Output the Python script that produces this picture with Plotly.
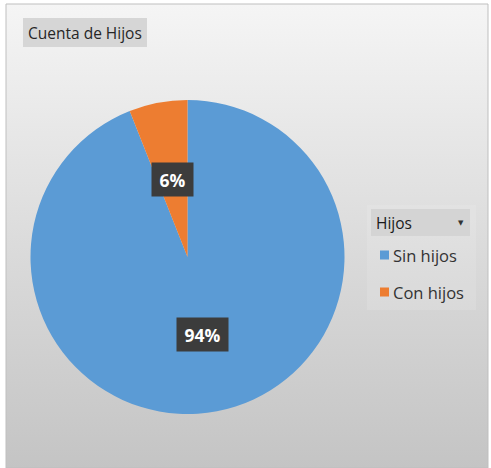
import math
import plotly.graph_objects as go

# Chart data
labels = ["Sin hijos", "Con hijos"]
values = [94, 6]
colors = ["#5b9bd5", "#ed7d31"]
title_text = "Cuenta de Hijos"
legend_title = "Hijos"

W, H = 491, 468
# pie geometry in pixels
cx, cy, r = 187.5, 257.0, 157.0

fig = go.Figure()

# gradient background of the chart frame
fx0, fx1, fy0, fy1 = 6, 488, 4, 468
fig.add_trace(go.Scatter(
    x=[fx0, fx1, fx1, fx0, fx0], y=[fy0, fy0, fy1, fy1, fy0],
    mode="lines", fill="toself", line=dict(width=1, color="#bfbfbf"),
    fillgradient=dict(type="vertical",
                      colorscale=[[0, "#c4c4c4"], [0.5, "#dcdcdc"], [1, "#f5f5f5"]]),
    hoverinfo="skip", showlegend=False,
))

fig.add_trace(go.Pie(
    labels=labels, values=values, sort=False, direction="clockwise", rotation=0,
    marker=dict(colors=colors, line=dict(width=0)),
    textinfo="none", hoverinfo="label+percent", showlegend=False,
    domain=dict(x=[(cx - r) / W, (cx + r) / W], y=[1 - (cy + r) / H, 1 - (cy - r) / H]),
))

shapes = []
annotations = []

# percentage labels placed halfway along each slice's middle angle
total = sum(values)
cum = 0.0
for lab, v in zip(labels, values):
    mid = (cum + v / 2) / total
    cum += v
    th = 2 * math.pi * mid
    px = cx + 0.5 * r * math.sin(th)
    py = cy - 0.5 * r * math.cos(th)
    txt = f"{round(100 * v / total)}%"
    annotations.append(dict(
        x=px, y=py, xref="x", yref="y", text=f"<b>{txt}</b>", showarrow=False,
        font=dict(family="Open Sans", size=17.5, color="white"),
        bgcolor="#3c3c3c", width=10 * len(txt) + 21, height=33, borderpad=0,
    ))

# title box
shapes.append(dict(type="rect", xref="x", yref="y", x0=23, x1=147, y0=18, y1=47,
                   fillcolor="#d6d6d6", line=dict(width=0), layer="above"))
annotations.append(dict(x=26, y=32.5, xref="x", yref="y", text=title_text, showarrow=False,
                        xanchor="left", yanchor="middle",
                        font=dict(family="Open Sans", size=15.5, color="#262626")))

# legend panel
shapes.append(dict(type="rect", xref="x", yref="y", x0=367, x1=476, y0=205, y1=310,
                   fillcolor="rgba(255,255,255,0.12)", line=dict(width=0), layer="above"))
shapes.append(dict(type="rect", xref="x", yref="y", x0=371, x1=470, y0=209, y1=236,
                   fillcolor="#d4d4d4", line=dict(width=0), layer="above"))
annotations.append(dict(x=374, y=222.5, xref="x", yref="y", text=legend_title, showarrow=False,
                        xanchor="left", yanchor="middle",
                        font=dict(family="Open Sans", size=15.5, color="#1a1a1a")))
annotations.append(dict(x=461, y=222.5, xref="x", yref="y", text="▼", showarrow=False,
                        xanchor="center", yanchor="middle",
                        font=dict(family="DejaVu Sans", size=7, color="#333333")))

item_y = [255, 292]
for lab, col, yy in zip(labels, colors, item_y):
    shapes.append(dict(type="rect", xref="x", yref="y", x0=380, x1=389, y0=yy - 4.5, y1=yy + 4.5,
                       fillcolor=col, line=dict(width=0), layer="above"))
    annotations.append(dict(x=391, y=yy, xref="x", yref="y", text=lab, showarrow=False,
                            xanchor="left", yanchor="middle",
                            font=dict(family="Open Sans", size=16.5, color="#333333")))

fig.update_layout(
    width=W, height=H, margin=dict(l=0, r=0, t=0, b=0),
    paper_bgcolor="white", plot_bgcolor="rgba(0,0,0,0)",
    xaxis=dict(range=[0, W], visible=False, fixedrange=True),
    yaxis=dict(range=[H, 0], visible=False, fixedrange=True),
    shapes=shapes, annotations=annotations, showlegend=False,
)

fig.write_html("out.html")
